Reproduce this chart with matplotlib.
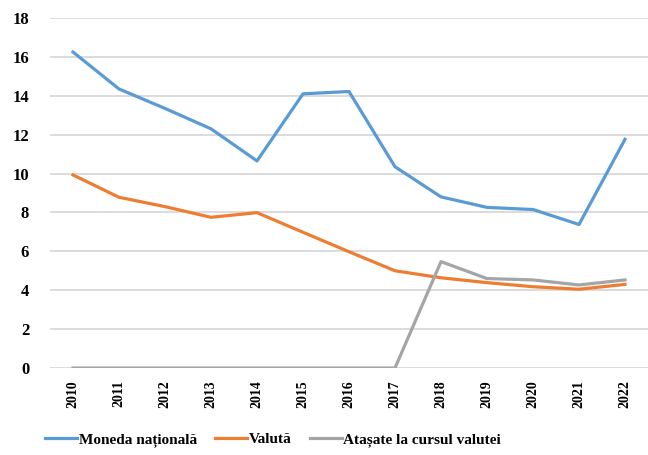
import numpy as np
import matplotlib
matplotlib.use('Agg')
import matplotlib.pyplot as plt

# data
years = ['2010', '2011', '2012', '2013', '2014', '2015', '2016',
         '2017', '2018', '2019', '2020', '2021', '2022']
moneda = [16.25, 14.35, 13.35, 12.3, 10.65, 14.1, 14.22, 10.35, 8.8, 8.26, 8.15, 7.38, 11.76]
valuta = [9.93, 8.78, 8.3, 7.75, 7.99, 6.98, 5.98, 5.0, 4.64, 4.39, 4.18, 4.05, 4.3]
atasate = [0, 0, 0, 0, 0, 0, 0, 0, 5.47, 4.6, 4.53, 4.27, 4.53]
labels = ['Moneda națională', 'Valută', 'Atașate la cursul valutei']
colors = ['#5B9BD5', '#ED7D31', '#A5A5A5']

plt.rcParams['font.family'] = ['Liberation Serif', 'DejaVu Serif']
plt.rcParams['font.weight'] = 'bold'

fig = plt.figure(figsize=(6.48, 4.55), dpi=100)
ax = fig.add_axes([50/648, 1-368/455, 598/648, 350/455])

x = np.arange(len(years))
for vals, lab, col in zip([moneda, valuta, atasate], labels, colors):
    ax.plot(x, vals, color=col, lw=2.3, label=lab, solid_joinstyle='round')

ax.set_xlim(-0.5, len(years) - 0.5)
ax.set_ylim(0, 18)
ax.set_yticks(np.arange(0, 19, 2))
ax.set_xticks(x)
ax.set_xticklabels(years, rotation=90, fontsize=10, fontweight='bold')
for t in ax.get_yticklabels():
    t.set_fontsize(12)
    t.set_fontweight('bold')
ax.tick_params(axis='both', length=0)
ax.tick_params(axis='y', pad=15)
ax.tick_params(axis='x', pad=9)
ax.grid(axis='y', color='#D9D9D9', lw=1.3)
ax.set_axisbelow(True)
for s in ax.spines.values():
    s.set_visible(False)

fig.legend(loc='center', bbox_to_anchor=(273/648, 1-440/455), ncol=3, frameon=False,
           prop={'family': 'Liberation Serif', 'weight': 'bold', 'size': 11},
           handlelength=2.1, handletextpad=0.1, columnspacing=1.2)

fig.savefig('out.png', dpi=100)
